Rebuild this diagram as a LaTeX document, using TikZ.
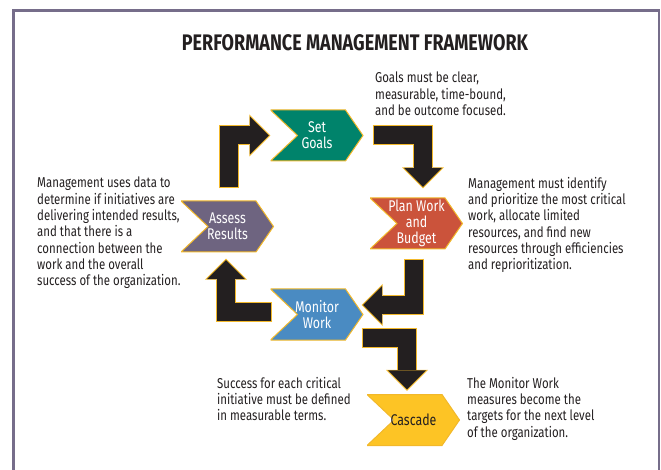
\documentclass[tikz,border=0pt]{standalone}
\usepackage{fontspec}
\setmainfont{Fira Sans}[FakeStretch=0.8]
\usetikzlibrary{arrows.meta}

\definecolor{ink}{HTML}{231F20}
\definecolor{rim}{HTML}{F2B82A}
\definecolor{framegray}{HTML}{766D8A}
\definecolor{setgreen}{HTML}{00836B}
\definecolor{planred}{HTML}{CB533B}
\definecolor{monitorblue}{HTML}{4A8BC2}
\definecolor{assesspurple}{HTML}{6E6480}
\definecolor{cascadeyellow}{HTML}{FDC425}

\tikzset{
	chevron/.style={
		minimum width=93pt, minimum height=52pt, inner sep=0pt, align=center,
		text=white, font=\fontsize{15.5}{16}\selectfont,
		path picture={
			\filldraw[draw=rim, fill=#1, line width=1pt]
				([yshift=-.5pt]path picture bounding box.north west)
				-- ([xshift=-18pt,yshift=-.5pt]path picture bounding box.north east)
				-- ([xshift=-.5pt]path picture bounding box.east)
				-- ([xshift=-18pt,yshift=.5pt]path picture bounding box.south east)
				-- ([yshift=.5pt]path picture bounding box.south west)
				-- ([xshift=27pt]path picture bounding box.west) -- cycle;
		}
	},
	% gold band first, black band on top of it
	fatarrow/.style={
		draw=rim, line width=20pt, line join=miter,
		-{Triangle[length=21pt, width=42pt, line width=0pt]},
		postaction={draw=ink, line width=18pt, shorten <=1pt, shorten >=1.4pt,
			-{Triangle[length=19pt, width=38pt, line width=0pt]}}
	},
	note/.style={anchor=north west, align=left, inner sep=0pt, text=ink,
		font=\fontsize{14.3}{16.3}\selectfont},
	heading/.style={text=ink, font=\bfseries\fontsize{22.5}{24}\selectfont}
}

\begin{document}
\begin{tikzpicture}[x=1pt, y=-1pt]
	\clip (0,0) rectangle (661,470);
	\draw[framegray, line width=2.5pt] (13.5,480) -- (13.5,10.5) -- (659,10.5) -- (659,480);
	\node[heading] (title) at (355,43) {PERFORMANCE MANAGEMENT FRAMEWORK};

	% the five stages
	\node[chevron=setgreen] (set) at (317,135.5) {Set\\Goals};
	\node[chevron=planred] (plan) at (416.5,223.5) {Plan Work\\and\\Budget};
	\node[chevron=monitorblue] (monitor) at (317,314.5) {Monitor\\Work};
	\node[chevron=assesspurple] (assess) at (227.5,226.5) {Assess\\Results};
	\node[chevron=cascadeyellow, text=ink] (cascade) at (413.5,420) {Cascade};

	% bent arrows between the stages
	\draw[fatarrow] ([xshift=1.5pt,yshift=12pt]assess.north) |- (set.west);
	\draw[fatarrow] ([xshift=9pt]set.east) -| ([xshift=6.5pt,yshift=9pt]plan.north);
	\draw[fatarrow] ([xshift=-2.5pt,yshift=-9pt]plan.south) |- ([xshift=-2pt,yshift=9.5pt]monitor.east);
	\draw[fatarrow] ([xshift=-2pt,yshift=-23pt]monitor.east) -| ([xshift=-6.5pt,yshift=3pt]cascade.north);
	\draw[fatarrow] ([xshift=2pt,yshift=2.5pt]monitor.west) -| ([xshift=-1.5pt,yshift=-6pt]assess.south);

	% notes
	\node[note] (goalsnote) at (375,72) {Goals must be clear,\\measurable, time-bound,\\and be outcome focused.};
	\node[note] (assessnote) at (37,177) {Management uses data to\\determine if initiatives are\\delivering intended results,\\and that there is a\\connection between the\\work and the overall\\success of the organization.};
	\node[note] (plannote) at (468,177) {Management must identify\\and prioritize the most critical\\work, allocate limited\\resources, and find new\\resources through efficiencies\\and reprioritization.};
	\node[note] (monitornote) at (217,377) {Success for each critical\\initiative must be defined\\in measurable terms.};
	\node[note] (cascadenote) at (467,377) {The Monitor Work\\measures become the\\targets for the next level\\of the organization.};
\end{tikzpicture}
\end{document}
